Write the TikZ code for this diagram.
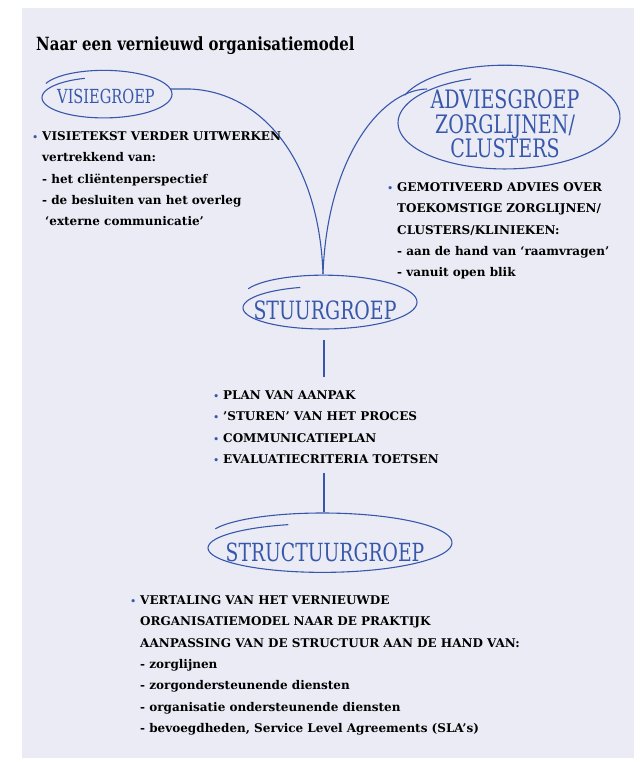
\documentclass[tikz,border=0pt]{standalone}
\usepackage{fontspec}
\setmainfont{DejaVu Serif}
\newfontfamily\bodyfont{DejaVu Serif}
\newfontfamily\titlefont[FakeStretch=0.82]{DejaVu Serif}
\newfontfamily\lblfont[FakeStretch=0.75]{DejaVu Serif}
\usetikzlibrary{calc}
\definecolor{bg}{RGB}{235,235,246}
\definecolor{sblue}{RGB}{55,88,170}
\newcommand{\bul}{\textcolor{sblue}{\fontsize{9}{9}\selectfont\textbullet}\hspace{4pt}}
% #1 node, #2 dx, #3 dy, #4 rx, #5 ry, #6 start offset, #7 end offset
\newcommand{\sketchell}[7]{%
  \draw[sk, shift={($(#1.center)+(#2,#3)$)}] plot[domain=200:610, samples=100, smooth]
    ({#4*cos(\x)}, {#5*sin(\x) + #6 + (#7-(#6))*(\x-200)/410});
}
\begin{document}
\begin{tikzpicture}[x=1pt,y=-1pt,
  lbl/.style={inner sep=0pt, text=sblue, align=center},
  sk/.style={draw=sblue, line width=1.1pt},
  conn/.style={draw=sblue, line width=1.1pt},
  body/.style={anchor=north west, inner sep=0pt, align=left,
    font=\bodyfont\bfseries\fontsize{12}{21.3}\selectfont},
]
\useasboundingbox (0,0) rectangle (634,758);
\fill[bg] (22,8) rectangle (634,758);

\node[anchor=base west, inner sep=0pt, font=\titlefont\bfseries\fontsize{18.2}{20}\selectfont] (title) at (36,50) {Naar een vernieuwd organisatiemodel};

% group labels
\node[lbl, font=\lblfont\fontsize{19.4}{22}\selectfont] (visie) at (106,96) {VISIEGROEP};
\node[lbl, font=\lblfont\fontsize{25.4}{24.5}\selectfont] (advies) at (505,124) {ADVIESGROEP\\ZORGLIJNEN/\\CLUSTERS};
\node[lbl, font=\lblfont\fontsize{25.2}{26}\selectfont] (stuur) at (325,310) {STUURGROEP};
\node[lbl, font=\lblfont\fontsize{25}{26}\selectfont] (structuur) at (325,552) {STRUCTUURGROEP};

% sketchy ellipses
\sketchell{visie}{1}{-1}{65}{22}{-4}{4}
\sketchell{advies}{4}{-5}{111}{49}{-7}{6}
\sketchell{stuur}{5}{-3}{87}{24}{-10}{3}
\sketchell{structuur}{5}{-7}{122}{27}{-7}{5}

% connectors to STUURGROEP
\coordinate (join) at (323,274);
\draw[conn] ($(visie.center)+(64,-7)$) -- ++(20,0) .. controls (262,92) and (319,160) .. (join);
\draw[conn] ($(advies.center)+(-78,-35)$) .. controls (380,90) and (327,160) .. (join);

% vertical connectors
\coordinate (v1a) at (324,340);
\coordinate (v1b) at (324,377);
\draw[conn] (v1a) -- (v1b);
\coordinate (v2a) at (324,473);
\coordinate (v2b) at (324,512);
\draw[conn] (v2a) -- (v2b);

% texts
\node[body] (visietxt) at (42,131.5) {\llap{\bul}VISIETEKST VERDER UITWERKEN\\
vertrekkend van:\\
- het cliëntenperspectief\\
- de besluiten van het overleg\\
\hspace*{3pt}‘externe communicatie’};

\node[body] (adviestxt) at (397,182.5) {\llap{\bul}GEMOTIVEERD ADVIES OVER\\
TOEKOMSTIGE ZORGLIJNEN/\\
CLUSTERS/KLINIEKEN:\\
- aan de hand van ‘raamvragen’\\
- vanuit open blik};

\node[body] (stuurtxt) at (223,390.5) {\llap{\bul}PLAN VAN AANPAK\\
\llap{\bul}’STUREN’ VAN HET PROCES\\
\llap{\bul}COMMUNICATIEPLAN\\
\llap{\bul}EVALUATIECRITERIA TOETSEN};

\node[body] (structtxt) at (140,595.5) {\llap{\bul}VERTALING VAN HET VERNIEUWDE\\
ORGANISATIEMODEL NAAR DE PRAKTIJK\\
AANPASSING VAN DE STRUCTUUR AAN DE HAND VAN:\\
- zorglijnen\\
- zorgondersteunende diensten\\
- organisatie ondersteunende diensten\\
- bevoegdheden, Service Level Agreements (SLA’s)};
\end{tikzpicture}
\end{document}
